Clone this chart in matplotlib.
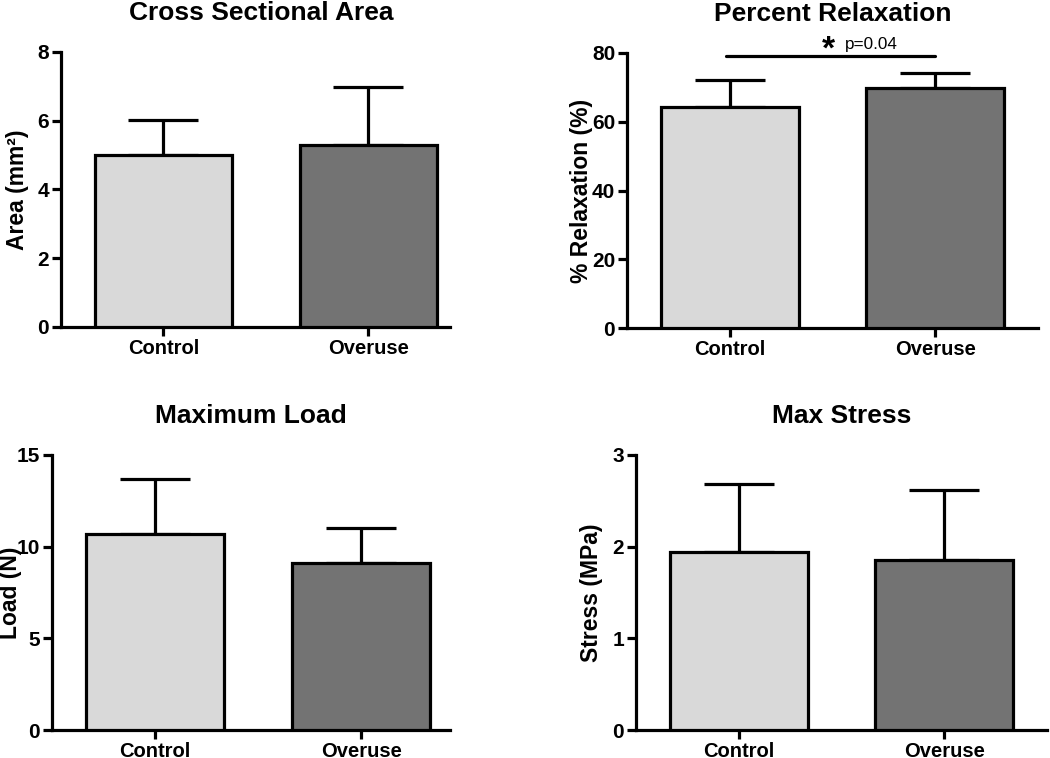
import matplotlib
matplotlib.use("Agg")
import matplotlib.pyplot as plt
import numpy as np

plt.rcParams['font.family'] = ['Liberation Sans', 'DejaVu Sans']

groups = ["Control", "Overuse"]
bar_colors = ["#d9d9d9", "#737373"]

titles = ["Cross Sectional Area", "Percent Relaxation", "Maximum Load", "Max Stress"]
ylabels = ["Area (mm²)", "% Relaxation (%)", "Load (N)", "Stress (MPa)"]

area_mean = [5.0, 5.28]
area_sd = [1.03, 1.70]
relax_mean = [64.4, 69.9]
relax_sd = [7.8, 4.4]
load_mean = [10.7, 9.12]
load_sd = [3.0, 1.9]
stress_mean = [1.94, 1.85]
stress_sd = [0.74, 0.77]

means = [area_mean, relax_mean, load_mean, stress_mean]
sds = [area_sd, relax_sd, load_sd, stress_sd]
ymaxs = [8, 80, 15, 3]
yticks = [[0, 2, 4, 6, 8], [0, 20, 40, 60, 80], [0, 5, 10, 15], [0, 1, 2, 3]]

# axes rectangles (fig fraction)
W, H = 1050, 758
rects_px = [(61, 450, 52, 327), (627, 1038, 53, 328), (52, 450, 455, 730), (636, 1047, 455, 730)]
xright = [1.40, 1.5, 1.43, 1.5]
label_x = [-0.083, -0.083, -0.076, -0.080]

fig = plt.figure(figsize=(10.5, 7.58), dpi=100)
lw = 2.3
for i in range(4):
    l, r, t, b = rects_px[i]
    ax = fig.add_axes([l / W, 1 - b / H, (r - l) / W, (b - t) / H])
    x = np.arange(len(groups))
    ax.bar(x, means[i], width=0.67, color=bar_colors, edgecolor='black', linewidth=lw, zorder=3)
    ax.errorbar(x, means[i], yerr=[np.zeros(2), sds[i]], fmt='none', ecolor='black',
                elinewidth=lw, capsize=25, capthick=lw, zorder=2)
    ax.set_xlim(-0.5, xright[i])
    ax.set_ylim(0, ymaxs[i])
    ax.set_xticks(x)
    ax.set_xticklabels(groups, fontsize=14.5, fontweight='bold')
    ax.set_yticks(yticks[i])
    ax.set_yticklabels([str(v) for v in yticks[i]], fontsize=15, fontweight='bold')
    for s in ['top', 'right']:
        ax.spines[s].set_visible(False)
    for s in ['left', 'bottom']:
        ax.spines[s].set_linewidth(lw)
    ax.tick_params(axis='both', width=lw, length=6.5, direction='out')
    ax.tick_params(axis='x', pad=2)
    ax.tick_params(axis='y', pad=2)
    ax.set_ylabel(ylabels[i], fontsize=16.5, fontweight='bold')
    ax.yaxis.set_label_coords(label_x[i], 0.5)
    ax.set_title(titles[i], fontsize=19, fontweight='bold', pad=23,
                 x=0.515 if i == 0 else 0.5)
    if i == 1:
        ax.plot([-0.02, 1.0], [79.2, 79.2], color='black', linewidth=lw, clip_on=False,
                solid_capstyle='round')
        ax.text(0.48, 81.0, "*", fontsize=24, fontweight='bold', ha='center', va='center')
        ax.text(0.56, 81.3, "p=0.04", fontsize=12.3, ha='left', va='baseline')

fig.savefig("out.png", dpi=100)
